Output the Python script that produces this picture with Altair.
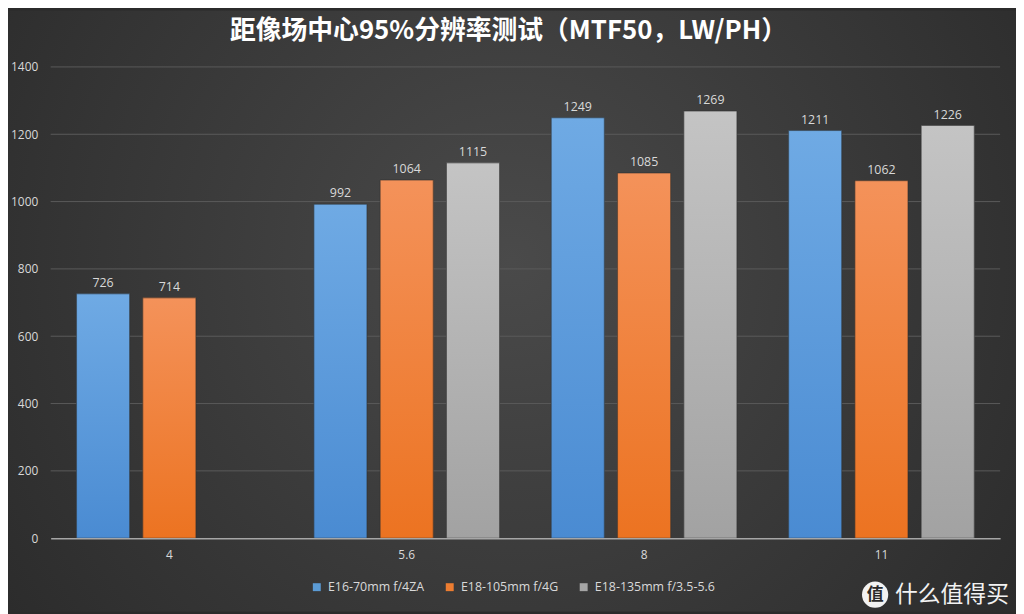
import altair as alt
import pandas as pd

# ---- data ----
apertures = ["4", "5.6", "8", "11"]
series = ["E16-70mm f/4ZA", "E18-105mm f/4G", "E18-135mm f/3.5-5.6"]
e16_70 = [726, 992, 1249, 1211]
e18_105 = [714, 1064, 1085, 1062]
e18_135 = [None, 1115, 1269, 1226]
y_ticks = [0, 200, 400, 600, 800, 1000, 1200, 1400]
title_text = "距像场中心95%分辨率测试（MTF50，LW/PH）"
watermark_text = "什么值得买"
watermark_icon = "值"

rows = []
for name, vals in zip(series, [e16_70, e18_105, e18_135]):
    for ap, v in zip(apertures, vals):
        if v is not None:
            rows.append({"aperture": ap, "series": name, "value": v})
df = pd.DataFrame(rows)

# ---- styles ----
W, H = 957, 475
PAD = {"left": 43, "top": 57, "right": 16, "bottom": 74}
FONT = "Open Sans"
LABEL_COLOR = "#d9d9d9"
flat_colors = ["#5b9bd5", "#ed7d31", "#a5a5a5"]


def lin(top, bottom):
    return {"gradient": "linear", "x1": 0, "y1": 0, "x2": 0, "y2": 1,
            "stops": [{"offset": 0, "color": top}, {"offset": 1, "color": bottom}]}


grads = [lin("#6faae4", "#4a8bd2"), lin("#f4925a", "#ec7321"), lin("#c4c4c4", "#a2a2a2")]

x_enc = alt.X("aperture:N", sort=apertures,
              scale=alt.Scale(domain=apertures, paddingInner=0.218, paddingOuter=0.109),
              axis=alt.Axis(title=None, labelAngle=0, labelColor=LABEL_COLOR, labelFont=FONT,
                            labelFontSize=12, labelPadding=11, ticks=False, grid=False,
                            domainColor="#a6a6a6", domainWidth=1.5, zindex=1))
xo_enc = alt.XOffset("series:N", scale=alt.Scale(domain=series, paddingInner=0.2, paddingOuter=0))
y_scale = alt.Scale(domain=[0, 1400], nice=False)
y_axis = alt.Axis(title=None, values=y_ticks, format="d", grid=False, domain=False, ticks=False,
                  labelPadding=13, labelColor=LABEL_COLOR, labelFont=FONT,
                  labelFontSize=12, zindex=1)
y_enc = alt.Y("value:Q", scale=y_scale, axis=y_axis)

# background
bg = alt.Chart(pd.DataFrame({"k": [0]})).mark_rect(
    fill={"gradient": "radial", "x1": 0.5, "y1": 0.45, "r1": 0, "x2": 0.5, "y2": 0.45, "r2": 0.75,
          "stops": [{"offset": 0, "color": "#4a4a4a"}, {"offset": 1, "color": "#252525"}]}
).encode(x=alt.value(-43), x2=alt.value(973), y=alt.value(-57), y2=alt.value(549))

# grid lines
grid = alt.Chart(pd.DataFrame({"value": y_ticks[1:]})).mark_rule(color="#5a5a5a", strokeWidth=1).encode(
    y=y_enc)

base = alt.Chart(df)

legend_bars = base.mark_bar().encode(
    x=x_enc, xOffset=xo_enc, y=y_enc,
    color=alt.Color("series:N",
                    scale=alt.Scale(domain=series, range=flat_colors),
                    legend=alt.Legend(title=None, orient="none", legendX=262, legendY=518,
                                      direction="horizontal", symbolType="square", symbolSize=64,
                                      symbolStrokeWidth=0, labelColor=LABEL_COLOR, labelFont=FONT,
                                      labelFontSize=12.5, columnPadding=19, labelOffset=5)))

grad_layers = []
for name, g in zip(series, grads):
    grad_layers.append(
        base.transform_filter(alt.datum.series == name).mark_bar(
            fill=g, stroke="#2e2e2e", strokeWidth=1, strokeOpacity=0.6
        ).encode(x=alt.X("aperture:N", sort=apertures), xOffset=alt.XOffset("series:N"),
                 y=y_enc))

labels = base.mark_text(baseline="alphabetic", dy=-7, color=LABEL_COLOR, font=FONT, fontSize=12.5).encode(
    x=alt.X("aperture:N", sort=apertures), xOffset=alt.XOffset("series:N"),
    y=y_enc, text=alt.Text("value:Q"))

one = pd.DataFrame({"k": [0]})
wm_circle = alt.Chart(one).mark_point(shape="circle", filled=True, color="#f2f2f2", size=700,
                                      opacity=1).encode(x=alt.value(831), y=alt.value(532))
wm_icon = alt.Chart(one).mark_text(text=watermark_icon, font="Noto Sans CJK SC", fontSize=17,
                                   fontWeight="bold", color="#2a2a2a", align="center",
                                   baseline="middle").encode(x=alt.value(831), y=alt.value(532))
wm_text = alt.Chart(one).mark_text(text=watermark_text, font="Noto Sans CJK SC", fontSize=23,
                                   color="#f2f2f2", align="left",
                                   baseline="middle").encode(x=alt.value(851), y=alt.value(532))

chart = alt.layer(bg, grid, legend_bars, *grad_layers, labels, wm_circle, wm_icon, wm_text).properties(
    width=W, height=H, padding=PAD, autosize=alt.AutoSizeParams(type="none"),
    background="#2b2b2b",
    title=alt.TitleParams(text=title_text, font="Noto Sans CJK SC", fontSize=26, fontWeight="bold",
                          color="#ffffff", anchor="middle", frame="group", dx=-17,
                          baseline="middle", offset=0, dy=47)
).configure_view(stroke=None)

chart.save("out.html", embed_options={"renderer": "svg", "actions": False})
